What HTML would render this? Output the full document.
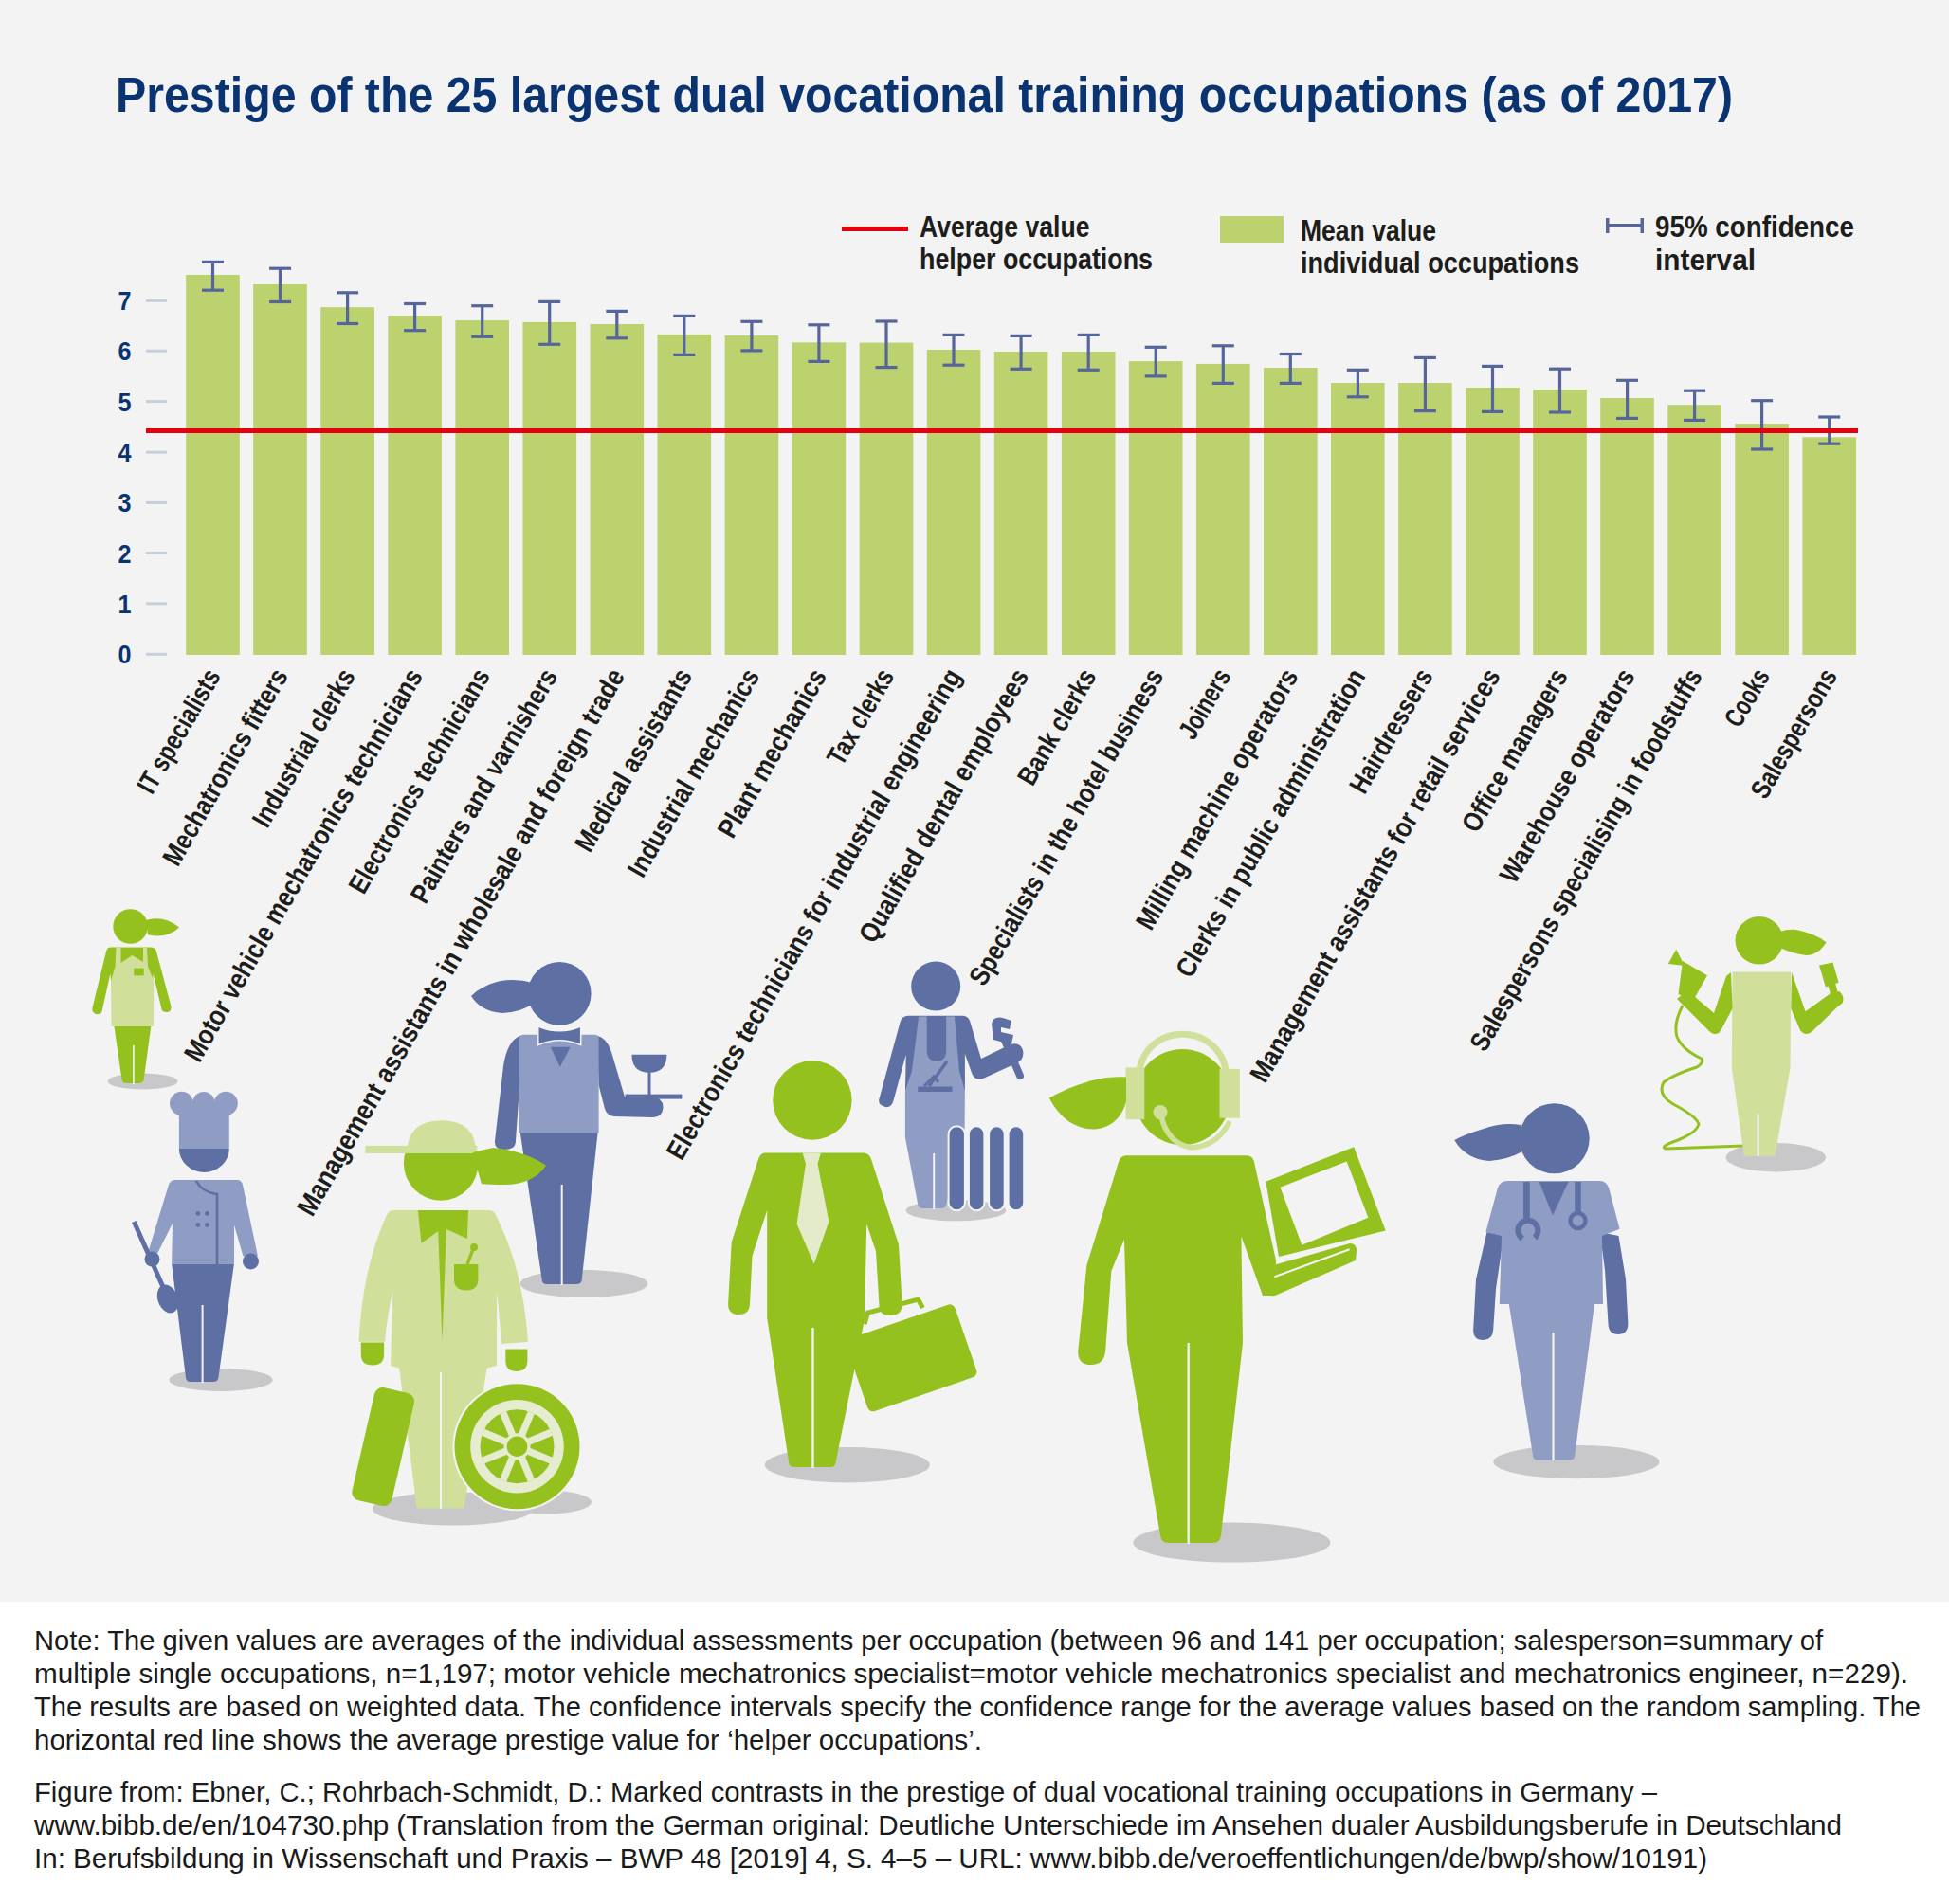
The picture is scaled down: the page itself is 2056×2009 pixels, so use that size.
<!DOCTYPE html>
<html><head><meta charset="utf-8"><style>
html,body{margin:0;padding:0;background:#fff;}
svg{display:block;font-family:"Liberation Sans",sans-serif;}
</style></head><body>
<svg width="2056" height="2009" viewBox="0 0 2056 2009">
<rect x="0" y="0" width="2056" height="1690" fill="#f3f3f3"/>
<rect x="0" y="1690" width="2056" height="319" fill="#ffffff"/>
<g id="figs">
<!-- shadows -->
<g fill="#c8c8ca">
<ellipse cx="150.6" cy="1141" rx="37" ry="8.5"/>
<ellipse cx="233" cy="1456" rx="54.6" ry="12"/>
<ellipse cx="478" cy="1592" rx="85" ry="17.5"/><ellipse cx="577" cy="1585" rx="47" ry="12.5"/>
<ellipse cx="616" cy="1354.6" rx="67.3" ry="14.5"/>
<ellipse cx="893.8" cy="1545.7" rx="87" ry="18.7"/>
<ellipse cx="1008.5" cy="1277.3" rx="52.8" ry="11"/>
<ellipse cx="1299.4" cy="1627.6" rx="104" ry="21"/>
<ellipse cx="1662.9" cy="1542.6" rx="87.6" ry="17.6"/>
<ellipse cx="1873.3" cy="1221.2" rx="52.6" ry="15.2"/>
</g>

<!-- F1 saleswoman -->
<g>
<path fill="#95c11f" d="M120.3,1082 L159.4,1082 L151.7,1139 Q151,1143 146,1143 L134,1143 Q129,1143 128.5,1139 Z"/>
<line x1="140.9" y1="1103" x2="140.9" y2="1144" stroke="#f3f3f3" stroke-width="1.6"/>
<path fill="#95c11f" d="M117,999.6 L160,999.6 Q163.8,1000 165,1004 L180.4,1061.4 Q181,1068 176,1068 Q171,1068 170.5,1064.7 L161.6,1027.2 L159.4,1083 L120.3,1083 L116.4,1027.2 L107.6,1066.9 Q106,1071 101,1070 Q96,1068 97.7,1062.5 L112,1004 Q113,999.6 117,999.6 Z"/>
<path fill="#d0e09a" d="M122.5,999.6 L155,999.6 L156,1020 L162.2,1035 L162,1083 L117.5,1083 L117,1035 L121.5,1020 Z"/>
<path fill="#95c11f" d="M127.5,1000 L151,1000 L151,1015 L139.5,1008 L127.5,1016 Z"/>
<rect x="141.2" y="1021.6" width="10.5" height="7.8" fill="#95c11f"/>
<circle cx="137.6" cy="977.5" r="18.3" fill="#95c11f"/>
<path fill="#95c11f" d="M154,971 Q172,965 189.2,978.6 Q176,991 156,986.3 Z"/>
</g>

<!-- F2 chef -->
<g>
<path fill="#5e70a3" d="M181.1,1333 L247,1333 L230.5,1453 Q230,1458 225,1458 L201,1458 Q196,1458 195.9,1453 Z"/>
<line x1="213.6" y1="1377" x2="213.6" y2="1459" stroke="#f3f3f3" stroke-width="2"/>
<path fill="#8f9cc4" d="M185,1244.9 L250,1244.9 Q254.8,1245 256,1250 L272,1325.4 L256.5,1325.4 L247,1292.5 L247,1334.1 L181.1,1334.1 L182,1290.8 L166.4,1322 L156,1322 L178,1250 Q180,1244.9 185,1244.9 Z"/>
<circle cx="160.5" cy="1328.5" r="8" fill="#5e70a3"/>
<circle cx="264.5" cy="1331" r="8.5" fill="#5e70a3"/>
<line x1="141.3" y1="1289" x2="172" y2="1358" stroke="#5e70a3" stroke-width="5"/>
<ellipse cx="177" cy="1370.5" rx="10.5" ry="15.5" transform="rotate(-20 177 1370.5)" fill="#5e70a3"/>
<path d="M207,1246 Q213,1258 229,1260 L229,1334" fill="none" stroke="#5e70a3" stroke-width="2.6"/>
<g fill="#5e70a3"><circle cx="208.9" cy="1280.4" r="2.4"/><circle cx="218.4" cy="1280.4" r="2.4"/><circle cx="208.9" cy="1292.5" r="2.4"/><circle cx="218.4" cy="1292.5" r="2.4"/></g>
<g fill="#8f9cc4"><circle cx="191.5" cy="1164.3" r="12.5"/><circle cx="214.9" cy="1163.5" r="11.5"/><circle cx="238.3" cy="1164.3" r="12.5"/><rect x="188.9" y="1162" width="52.9" height="50"/></g>
<path fill="#5e70a3" d="M188.9,1211.9 L241.8,1211.9 A26.45,25 0 0 1 188.9,1211.9 Z"/>
</g>

<!-- F4 waitress -->
<g>
<path fill="#5e70a3" d="M548.8,1195 L630.6,1195 L613.7,1351 Q613,1355 608,1355 L577,1355 Q572,1355 571.8,1351 Z"/>
<line x1="592.7" y1="1250" x2="592.7" y2="1356" stroke="#f3f3f3" stroke-width="2"/>
<path fill="#5e70a3" d="M549,1092.8 Q535,1098 531,1125 L521.9,1205 Q522,1213 532,1213 Q543,1213 543.8,1206 L547.8,1150 Z"/>
<path fill="#5e70a3" d="M630,1092.8 Q640,1095 645,1110 L659,1157.6 L688,1157.6 Q699,1158 699.5,1168 Q699,1179 688,1179 L648,1178 Q640,1177 638,1170 L631.6,1145 Z"/>
<path fill="#8f9cc4" d="M552,1091.8 L627.6,1091.8 Q631.6,1092 631.6,1096 L631.6,1195.5 L547.8,1195.5 L547.8,1096 Q548,1092 552,1091.8 Z"/>
<path fill="#5e70a3" d="M580.7,1104.7 L601.7,1104.7 L590.7,1125.7 Z"/>
<path fill="#5e70a3" stroke="#f3f3f3" stroke-width="1.5" d="M567.8,1083 Q590,1092.6 612.7,1083 L612.7,1102.5 Q590,1092.9 567.8,1102.5 Z"/>
<circle cx="590.2" cy="1048.4" r="33.4" fill="#5e70a3"/>
<path fill="#5e70a3" d="M562,1037 Q545,1032 528,1035 Q508,1040 497,1050.9 Q508,1068 530,1069 Q550,1068 562,1059 Z"/>
<rect x="659.5" y="1154.6" width="59.9" height="5" fill="#5e70a3"/>
<path fill="#5e70a3" d="M666.5,1112.7 L703.4,1112.7 Q703.4,1131.7 685,1131.7 Q666.5,1131.7 666.5,1112.7 Z"/>
<rect x="683.5" y="1130" width="3" height="26" fill="#5e70a3"/>
</g>

<!-- F3 mechanic -->
<g>
<path fill="#d0e09a" d="M415,1277 L516,1277 Q521.8,1277 524,1284 Q552,1340 557,1416 L529,1418 Q527,1390 524.1,1362.6 L524,1441 L513.7,1443.5 L489.4,1591.4 L439.7,1591.4 L421.2,1443.5 L412,1441 L414.3,1362.6 Q408,1390 406.2,1415.7 L378.5,1415.7 Q382,1340 407,1284 Q409.7,1277 415,1277 Z"/>
<line x1="465" y1="1448" x2="465" y2="1592" stroke="#f3f3f3" stroke-width="2"/>
<path fill="#95c11f" d="M440.9,1277 L494,1277 L492.9,1307.1 L467.5,1295.6 L444.4,1311.7 Z"/>
<path fill="#95c11f" d="M462,1294 L471,1294 L466.5,1415 Z"/>
<path fill="#95c11f" d="M479,1334 L504.4,1334 L504.4,1350 Q504.4,1361.4 491.7,1361.4 Q479,1361.4 479,1350 Z"/>
<path d="M493,1334 L499,1318" stroke="#95c11f" stroke-width="3.5"/>
<circle cx="500" cy="1316" r="4" fill="#95c11f"/>
<path fill="#95c11f" d="M380.8,1416.5 L405.1,1416.5 L405.1,1429 Q405.1,1440.5 393,1440.5 Q380.8,1440.5 380.8,1429 Z"/>
<path fill="#95c11f" d="M533.3,1423.5 L556.4,1423.5 L556.4,1435.5 Q556.4,1447 544.8,1447 Q533.3,1447 533.3,1435.5 Z"/>
<circle cx="465.2" cy="1227.4" r="39.3" fill="#95c11f"/>
<path fill="#d0e09a" d="M429.3,1217 Q429.3,1182.3 465.7,1182.3 Q502.1,1182.3 502.1,1217 Z"/>
<rect x="385.4" y="1208.9" width="117.9" height="8.1" fill="#d0e09a"/>
<path fill="#95c11f" d="M498.7,1216 L520,1211 Q552,1214 576.1,1229.7 Q562,1250 532,1250 Q516,1250 507.9,1249.3 Z"/>
<rect x="382.7" y="1465.6" width="43" height="122" rx="9" transform="rotate(13 404.2 1526.6)" fill="#95c11f"/>
<circle cx="545.5" cy="1526.2" r="68" fill="#f3f3f3"/>
<circle cx="545.5" cy="1526.2" r="66" fill="#95c11f"/>
<circle cx="545.5" cy="1526.2" r="49.3" fill="#e5ecd0"/>
<circle cx="545.5" cy="1526.2" r="39" fill="#95c11f"/>
<g stroke="#e5ecd0" stroke-width="7.5">
<line x1="545.5" y1="1526.2" x2="560.4" y2="1490.2"/><line x1="545.5" y1="1526.2" x2="581.5" y2="1511.3"/>
<line x1="545.5" y1="1526.2" x2="581.5" y2="1541.1"/><line x1="545.5" y1="1526.2" x2="560.4" y2="1562.2"/>
<line x1="545.5" y1="1526.2" x2="530.6" y2="1562.2"/><line x1="545.5" y1="1526.2" x2="509.5" y2="1541.1"/>
<line x1="545.5" y1="1526.2" x2="509.5" y2="1511.3"/><line x1="545.5" y1="1526.2" x2="530.6" y2="1490.2"/>
</g>
<circle cx="545.5" cy="1526.2" r="14" fill="#e5ecd0"/>
<circle cx="545.5" cy="1526.2" r="10.8" fill="#95c11f"/>
</g>

<!-- F5 businessman -->
<g>
<path fill="#95c11f" d="M807,1216.6 L911,1216.6 Q916.7,1217 919,1223 L948,1313.2 L951.7,1376 Q951.5,1388 939.5,1388 Q928,1388 927.5,1378.5 L924,1320.5 L914.3,1291.5 L911.8,1393 L881.6,1543 Q881,1548 876,1548 L838,1548 Q832.5,1548 832.1,1543 L809.2,1390.5 L809.2,1277 L793.5,1325.3 L791,1376 Q790.5,1387 779.5,1387 Q768,1387 768.1,1376 L771.7,1310.8 L800,1223 Q802,1217 807,1216.6 Z"/>
<line x1="857.5" y1="1401" x2="857.5" y2="1549" stroke="#f3f3f3" stroke-width="2.4"/>
<path fill="#e3ebcb" d="M846.6,1216.6 L865.9,1216.6 L862.5,1228 L874.4,1289 L858.7,1333.8 L840.6,1291.5 L850,1228 Z"/>
<circle cx="856.9" cy="1161" r="41.7" fill="#95c11f"/>
<rect x="900.65" y="1392.3" width="121.5" height="81" rx="6" transform="rotate(-19 961.4 1432.8)" fill="#95c11f"/>
<path d="M912,1397 L915.5,1385 L968.6,1371.2 L973.4,1380" fill="none" stroke="#95c11f" stroke-width="5"/>
</g>

<!-- F6 plumber -->
<g>
<path fill="#5e70a3" d="M958,1071.7 L1016,1071.7 Q1021,1072 1023,1077 L1035,1117 L1066,1102 Q1076,1099 1079,1108 Q1081,1118 1072,1122 L1037,1138 Q1028,1141 1025,1132 L1017.9,1112 L1017.9,1150 L955,1150 L955.7,1112.7 L942.3,1162 Q940,1169 934,1168 Q926,1166 927.3,1160 L950,1077 Q952,1072 958,1071.7 Z"/>
<path fill="#8f9cc4" d="M969.1,1072.5 L977.7,1072.5 L977.7,1108 Q977.7,1119.7 988,1119.7 Q998.2,1119.7 998.2,1108 L998.2,1072.5 L1006.9,1072.5 L1012,1130 L1017.9,1151 L1017.5,1200 L998.2,1271 Q997,1275 993,1275 L973,1275 Q969,1275 968.3,1271 L954.9,1200 L954.9,1151 L962,1130 Z"/>
<line x1="985.2" y1="1217" x2="985.2" y2="1276" stroke="#f3f3f3" stroke-width="2"/>
<rect x="968.3" y="1146.5" width="36.2" height="5.5" fill="#5e70a3"/>
<path d="M980,1146 L999,1120" stroke="#5e70a3" stroke-width="3.5"/>
<path d="M975,1146 L985,1136 L990,1142" fill="none" stroke="#5e70a3" stroke-width="3"/>
<circle cx="987.2" cy="1040.6" r="26" fill="#5e70a3"/>
<path d="M1060,1098 L1076,1135" stroke="#5e70a3" stroke-width="8" stroke-linecap="round"/>
<path fill="#5e70a3" d="M1046,1080 Q1048,1072 1058,1074 L1067,1077 L1065,1086 L1056,1084 L1056,1089 L1069,1092 L1067,1102 L1048,1097 Z"/>
<g fill="#5e70a3" stroke="#f3f3f3" stroke-width="2">
<rect x="1000.6" y="1188.3" width="17.3" height="89" rx="8.5"/>
<rect x="1021.9" y="1188.3" width="16.5" height="89" rx="8.2"/>
<rect x="1043.1" y="1188.3" width="16.6" height="89" rx="8.3"/>
<rect x="1063.6" y="1188.3" width="16.6" height="89" rx="8.3"/>
</g>
</g>

<!-- F7 call center -->
<g>
<path fill="#95c11f" d="M1188,1219.3 L1315,1219.3 Q1321.6,1219.3 1323,1226 L1346,1330 L1345,1367 L1332,1367 L1309.4,1304.6 L1311,1417 L1288,1620 Q1287,1628 1280,1628 L1232,1628 Q1225,1628 1224,1620 L1189,1417 L1186,1307.7 L1172.3,1341.2 L1166.2,1425 Q1165,1440 1151,1440 Q1137,1440 1137.2,1426 L1146.4,1335 L1180,1226 Q1182,1219.3 1188,1219.3 Z"/>
<line x1="1253.7" y1="1417" x2="1253.7" y2="1629" stroke="#f3f3f3" stroke-width="2.4"/>
<path fill="#95c11f" fill-rule="evenodd" d="M1335.3,1246.7 L1428.2,1210.2 L1461.7,1298.5 L1349,1326 Z M1350.5,1252.8 L1373.4,1313.8 L1443.4,1284.8 L1420.6,1225.4 Z"/>
<path fill="#95c11f" d="M1333,1338 L1424,1312 Q1431,1312 1431,1320 L1430,1330 L1345,1367 Q1336,1369 1334,1360 Z"/>
<path d="M1344.4,1347.3 L1423.6,1318.3" stroke="#f3f3f3" stroke-width="2"/>
<circle cx="1247.5" cy="1157.5" r="50.5" fill="#95c11f"/>
<path d="M1201,1140 C1201,1075 1294,1075 1294,1140" fill="none" stroke="#d0e09a" stroke-width="7"/>
<rect x="1187.5" y="1126.4" width="19.8" height="54.8" fill="#d0e09a"/>
<rect x="1286.5" y="1127.9" width="21.4" height="51.8" fill="#d0e09a"/>
<path d="M1225,1178 Q1232,1207 1257,1211 Q1285,1209 1297,1183" fill="none" stroke="#d0e09a" stroke-width="5.5"/>
<circle cx="1224" cy="1173.6" r="7.5" fill="#d0e09a"/>
<path fill="#95c11f" d="M1188,1136.5 C1160,1134 1130,1146 1106.7,1158.5 C1118,1180 1135,1192 1155,1191.5 C1175,1190 1185,1175 1188,1162 Z"/>
</g>

<!-- F8 medical -->
<g>
<path fill="#5e70a3" d="M1568.5,1300 L1586.2,1304 L1578,1360 L1575.2,1403 Q1574.5,1414 1564.5,1414 Q1554,1414 1554.2,1403 L1557,1350 Z"/>
<path fill="#5e70a3" d="M1687.7,1300 L1707.5,1304 L1715,1350 L1717.4,1397 Q1717,1408 1707,1408 Q1697,1408 1696.5,1397 L1693,1340 Z"/>
<path fill="#8f9cc4" d="M1591.7,1375 L1682.1,1375 L1661.2,1536 Q1660.5,1540.5 1656,1540.5 L1622,1540.5 Q1617.5,1540.5 1617.1,1536 Z"/>
<line x1="1638.5" y1="1406" x2="1638.5" y2="1541" stroke="#f3f3f3" stroke-width="2.2"/>
<path fill="#8f9cc4" d="M1590,1246 L1688,1246 Q1694,1246 1697,1253 L1708.6,1296.7 L1690,1304 L1691,1376 L1581.8,1376 L1584,1304 L1567.4,1300 L1580,1253 Q1583,1246 1590,1246 Z"/>
<path fill="#5e70a3" d="M1623.7,1247 L1654.6,1247 L1638,1282.4 Z"/>
<rect x="1607" y="1247" width="6.8" height="42" fill="#5e70a3"/>
<path d="M1606,1307 A10.5,10.5 0 1 1 1619,1306" fill="none" stroke="#5e70a3" stroke-width="6"/>
<rect x="1661.2" y="1247" width="6.6" height="33" fill="#5e70a3"/>
<circle cx="1664.5" cy="1288" r="8" fill="#8f9cc4" stroke="#5e70a3" stroke-width="4.5"/>
<circle cx="1639.7" cy="1201.3" r="37" fill="#5e70a3"/>
<path fill="#5e70a3" d="M1604,1187 Q1585,1184 1565,1191 Q1545,1197 1534.3,1203 Q1546,1223 1571,1225 Q1592,1223 1604,1216 Z"/>
</g>

<!-- F9 hairdresser -->
<g>
<path d="M1775,1061 Q1765,1080 1769,1094 Q1775,1108 1795,1117 Q1798,1121 1790,1126 Q1765,1134 1755,1142 Q1748,1155 1765,1165 Q1790,1178 1792,1186 Q1790,1195 1770,1203 Q1750,1210 1757,1212 L1839,1209" fill="none" stroke="#95c11f" stroke-width="3"/>
<path fill="#d0e09a" d="M1827.6,1025.4 L1889.3,1025.4 L1888.5,1126.7 L1872.5,1219.7 L1839.8,1219.7 L1826.8,1126.7 Z"/>
<line x1="1854.6" y1="1175.5" x2="1854.6" y2="1220" stroke="#f3f3f3" stroke-width="2"/>
<path fill="#95c11f" d="M1826,1026 L1827.6,1064 L1815,1088 Q1811,1094 1804,1089 L1769,1054 L1780,1045 L1808,1069 L1821,1030 Z"/>
<path fill="#95c11f" d="M1775,1014 L1801,1029.2 L1785.7,1056.6 L1770.5,1049 Z"/>
<path fill="#95c11f" d="M1768.2,1001.8 L1759.8,1017 L1777,1019 Z"/>
<path fill="#95c11f" d="M1890,1026 L1904.5,1067.3 L1932,1047.5 L1940,1046 Q1946,1050 1944,1058 L1938,1062.7 L1911,1089 Q1904,1094 1899,1087 L1889.3,1064.3 Z"/>
<path fill="#95c11f" d="M1919,1018.6 L1933.5,1015.5 L1939.6,1036.8 L1925.9,1041.4 Z"/>
<rect x="1930" y="1038" width="8" height="14" fill="#95c11f" transform="rotate(-15 1934 1045)"/>
<circle cx="1855.8" cy="992.3" r="25.3" fill="#95c11f"/>
<path fill="#95c11f" d="M1878,983 Q1885,980 1895,981 Q1915,985 1926.6,994.2 Q1918,1008 1905,1008 Q1890,1006 1878,1000 Z"/>
</g>
</g>

<text x="122" y="117.5" font-size="51" font-weight="bold" fill="#0a3371" textLength="1706" lengthAdjust="spacingAndGlyphs" >Prestige of the 25 largest dual vocational training occupations (as of 2017)</text>
<rect x="888" y="239" width="70" height="5" fill="#e3000f"/>
<text x="970" y="249.5" font-size="30.5" font-weight="bold" fill="#1d1d1b" textLength="179.5" lengthAdjust="spacingAndGlyphs" >Average value</text>
<text x="970" y="284" font-size="30.5" font-weight="bold" fill="#1d1d1b" textLength="246" lengthAdjust="spacingAndGlyphs" >helper occupations</text>
<rect x="1287" y="228" width="67" height="28" fill="#bbd26e"/>
<text x="1372" y="254" font-size="30.5" font-weight="bold" fill="#1d1d1b" textLength="143" lengthAdjust="spacingAndGlyphs" >Mean value</text>
<text x="1372" y="288" font-size="30.5" font-weight="bold" fill="#1d1d1b" textLength="294" lengthAdjust="spacingAndGlyphs" >individual occupations</text>
<rect x="1694" y="236" width="40" height="3.5" fill="#56669c"/>
<rect x="1694" y="230" width="3.5" height="16" fill="#56669c"/>
<rect x="1730.5" y="230" width="3.5" height="16" fill="#56669c"/>
<text x="1746" y="249.5" font-size="30.5" font-weight="bold" fill="#1d1d1b" textLength="210" lengthAdjust="spacingAndGlyphs" >95% confidence</text>
<text x="1746" y="285" font-size="30.5" font-weight="bold" fill="#1d1d1b" textLength="106" lengthAdjust="spacingAndGlyphs" >interval</text>
<rect x="154" y="688.8" width="22" height="3" fill="#c8cddc"/>
<text x="124.5" y="700.3" font-size="27.5" font-weight="bold" fill="#0a3371" textLength="14" lengthAdjust="spacingAndGlyphs" >0</text>
<rect x="154" y="635.3" width="22" height="3" fill="#c8cddc"/>
<text x="124.5" y="646.8" font-size="27.5" font-weight="bold" fill="#0a3371" textLength="14" lengthAdjust="spacingAndGlyphs" >1</text>
<rect x="154" y="582.0" width="22" height="3" fill="#c8cddc"/>
<text x="124.5" y="593.5" font-size="27.5" font-weight="bold" fill="#0a3371" textLength="14" lengthAdjust="spacingAndGlyphs" >2</text>
<rect x="154" y="528.9" width="22" height="3" fill="#c8cddc"/>
<text x="124.5" y="540.4" font-size="27.5" font-weight="bold" fill="#0a3371" textLength="14" lengthAdjust="spacingAndGlyphs" >3</text>
<rect x="154" y="475.7" width="22" height="3" fill="#c8cddc"/>
<text x="124.5" y="487.2" font-size="27.5" font-weight="bold" fill="#0a3371" textLength="14" lengthAdjust="spacingAndGlyphs" >4</text>
<rect x="154" y="422.1" width="22" height="3" fill="#c8cddc"/>
<text x="124.5" y="433.6" font-size="27.5" font-weight="bold" fill="#0a3371" textLength="14" lengthAdjust="spacingAndGlyphs" >5</text>
<rect x="154" y="368.7" width="22" height="3" fill="#c8cddc"/>
<text x="124.5" y="380.2" font-size="27.5" font-weight="bold" fill="#0a3371" textLength="14" lengthAdjust="spacingAndGlyphs" >6</text>
<rect x="154" y="315.8" width="22" height="3" fill="#c8cddc"/>
<text x="124.5" y="327.3" font-size="27.5" font-weight="bold" fill="#0a3371" textLength="14" lengthAdjust="spacingAndGlyphs" >7</text>
<rect x="196.2" y="290" width="56.6" height="401.0" fill="#bbd26e"/>
<rect x="267.2" y="300" width="56.6" height="391.0" fill="#bbd26e"/>
<rect x="338.3" y="324.2" width="56.6" height="366.8" fill="#bbd26e"/>
<rect x="409.3" y="333" width="56.6" height="358.0" fill="#bbd26e"/>
<rect x="480.4" y="338.1" width="56.6" height="352.9" fill="#bbd26e"/>
<rect x="551.5" y="339.9" width="56.6" height="351.1" fill="#bbd26e"/>
<rect x="622.5" y="342" width="56.6" height="349.0" fill="#bbd26e"/>
<rect x="693.5" y="352.9" width="56.6" height="338.1" fill="#bbd26e"/>
<rect x="764.6" y="354.1" width="56.6" height="336.9" fill="#bbd26e"/>
<rect x="835.6" y="361.3" width="56.6" height="329.7" fill="#bbd26e"/>
<rect x="906.7" y="361.6" width="56.6" height="329.4" fill="#bbd26e"/>
<rect x="977.8" y="369" width="56.6" height="322.0" fill="#bbd26e"/>
<rect x="1048.8" y="371" width="56.6" height="320.0" fill="#bbd26e"/>
<rect x="1119.9" y="371" width="56.6" height="320.0" fill="#bbd26e"/>
<rect x="1190.9" y="381.1" width="56.6" height="309.9" fill="#bbd26e"/>
<rect x="1262.0" y="383.9" width="56.6" height="307.1" fill="#bbd26e"/>
<rect x="1333.0" y="388" width="56.6" height="303.0" fill="#bbd26e"/>
<rect x="1404.0" y="404" width="56.6" height="287.0" fill="#bbd26e"/>
<rect x="1475.1" y="404" width="56.6" height="287.0" fill="#bbd26e"/>
<rect x="1546.2" y="409" width="56.6" height="282.0" fill="#bbd26e"/>
<rect x="1617.2" y="411" width="56.6" height="280.0" fill="#bbd26e"/>
<rect x="1688.2" y="420" width="56.6" height="271.0" fill="#bbd26e"/>
<rect x="1759.3" y="427.2" width="56.6" height="263.8" fill="#bbd26e"/>
<rect x="1830.3" y="447.1" width="56.6" height="243.9" fill="#bbd26e"/>
<rect x="1901.4" y="461.3" width="56.6" height="229.7" fill="#bbd26e"/>
<rect x="222.9" y="276.4" width="3.2" height="29.8" fill="#56669c"/>
<rect x="213.0" y="274.8" width="23" height="3.2" fill="#56669c"/>
<rect x="213.0" y="304.6" width="23" height="3.2" fill="#56669c"/>
<rect x="293.9" y="283.2" width="3.2" height="35.3" fill="#56669c"/>
<rect x="284.1" y="281.6" width="23" height="3.2" fill="#56669c"/>
<rect x="284.1" y="316.9" width="23" height="3.2" fill="#56669c"/>
<rect x="365.0" y="308.8" width="3.2" height="32.7" fill="#56669c"/>
<rect x="355.1" y="307.2" width="23" height="3.2" fill="#56669c"/>
<rect x="355.1" y="339.9" width="23" height="3.2" fill="#56669c"/>
<rect x="436.0" y="320.5" width="3.2" height="28.2" fill="#56669c"/>
<rect x="426.1" y="318.9" width="23" height="3.2" fill="#56669c"/>
<rect x="426.1" y="347.1" width="23" height="3.2" fill="#56669c"/>
<rect x="507.1" y="322.7" width="3.2" height="32.6" fill="#56669c"/>
<rect x="497.2" y="321.1" width="23" height="3.2" fill="#56669c"/>
<rect x="497.2" y="353.7" width="23" height="3.2" fill="#56669c"/>
<rect x="578.1" y="318.4" width="3.2" height="44.9" fill="#56669c"/>
<rect x="568.2" y="316.8" width="23" height="3.2" fill="#56669c"/>
<rect x="568.2" y="361.7" width="23" height="3.2" fill="#56669c"/>
<rect x="649.2" y="328.4" width="3.2" height="28.4" fill="#56669c"/>
<rect x="639.3" y="326.8" width="23" height="3.2" fill="#56669c"/>
<rect x="639.3" y="355.2" width="23" height="3.2" fill="#56669c"/>
<rect x="720.2" y="333.4" width="3.2" height="41.0" fill="#56669c"/>
<rect x="710.3" y="331.8" width="23" height="3.2" fill="#56669c"/>
<rect x="710.3" y="372.8" width="23" height="3.2" fill="#56669c"/>
<rect x="791.3" y="339.3" width="3.2" height="30.6" fill="#56669c"/>
<rect x="781.4" y="337.7" width="23" height="3.2" fill="#56669c"/>
<rect x="781.4" y="368.3" width="23" height="3.2" fill="#56669c"/>
<rect x="862.3" y="342.8" width="3.2" height="38.6" fill="#56669c"/>
<rect x="852.4" y="341.2" width="23" height="3.2" fill="#56669c"/>
<rect x="852.4" y="379.8" width="23" height="3.2" fill="#56669c"/>
<rect x="933.4" y="339" width="3.2" height="48.6" fill="#56669c"/>
<rect x="923.5" y="337.4" width="23" height="3.2" fill="#56669c"/>
<rect x="923.5" y="386.0" width="23" height="3.2" fill="#56669c"/>
<rect x="1004.4" y="353.4" width="3.2" height="31.8" fill="#56669c"/>
<rect x="994.5" y="351.8" width="23" height="3.2" fill="#56669c"/>
<rect x="994.5" y="383.6" width="23" height="3.2" fill="#56669c"/>
<rect x="1075.5" y="354.4" width="3.2" height="34.9" fill="#56669c"/>
<rect x="1065.6" y="352.8" width="23" height="3.2" fill="#56669c"/>
<rect x="1065.6" y="387.7" width="23" height="3.2" fill="#56669c"/>
<rect x="1146.6" y="353.4" width="3.2" height="36.9" fill="#56669c"/>
<rect x="1136.7" y="351.8" width="23" height="3.2" fill="#56669c"/>
<rect x="1136.7" y="388.7" width="23" height="3.2" fill="#56669c"/>
<rect x="1217.6" y="366.3" width="3.2" height="30.6" fill="#56669c"/>
<rect x="1207.7" y="364.7" width="23" height="3.2" fill="#56669c"/>
<rect x="1207.7" y="395.3" width="23" height="3.2" fill="#56669c"/>
<rect x="1288.7" y="364.8" width="3.2" height="39.6" fill="#56669c"/>
<rect x="1278.8" y="363.2" width="23" height="3.2" fill="#56669c"/>
<rect x="1278.8" y="402.8" width="23" height="3.2" fill="#56669c"/>
<rect x="1359.7" y="373.5" width="3.2" height="30.9" fill="#56669c"/>
<rect x="1349.8" y="371.9" width="23" height="3.2" fill="#56669c"/>
<rect x="1349.8" y="402.8" width="23" height="3.2" fill="#56669c"/>
<rect x="1430.8" y="390.3" width="3.2" height="28.5" fill="#56669c"/>
<rect x="1420.8" y="388.7" width="23" height="3.2" fill="#56669c"/>
<rect x="1420.8" y="417.2" width="23" height="3.2" fill="#56669c"/>
<rect x="1501.8" y="377.4" width="3.2" height="56.2" fill="#56669c"/>
<rect x="1491.9" y="375.8" width="23" height="3.2" fill="#56669c"/>
<rect x="1491.9" y="432.0" width="23" height="3.2" fill="#56669c"/>
<rect x="1572.9" y="386.4" width="3.2" height="48.0" fill="#56669c"/>
<rect x="1563.0" y="384.8" width="23" height="3.2" fill="#56669c"/>
<rect x="1563.0" y="432.8" width="23" height="3.2" fill="#56669c"/>
<rect x="1643.9" y="389.2" width="3.2" height="45.8" fill="#56669c"/>
<rect x="1634.0" y="387.6" width="23" height="3.2" fill="#56669c"/>
<rect x="1634.0" y="433.4" width="23" height="3.2" fill="#56669c"/>
<rect x="1715.0" y="401.3" width="3.2" height="40.1" fill="#56669c"/>
<rect x="1705.0" y="399.7" width="23" height="3.2" fill="#56669c"/>
<rect x="1705.0" y="439.8" width="23" height="3.2" fill="#56669c"/>
<rect x="1786.0" y="412.2" width="3.2" height="31.2" fill="#56669c"/>
<rect x="1776.1" y="410.6" width="23" height="3.2" fill="#56669c"/>
<rect x="1776.1" y="441.8" width="23" height="3.2" fill="#56669c"/>
<rect x="1857.0" y="422.7" width="3.2" height="51.3" fill="#56669c"/>
<rect x="1847.1" y="421.1" width="23" height="3.2" fill="#56669c"/>
<rect x="1847.1" y="472.4" width="23" height="3.2" fill="#56669c"/>
<rect x="1928.1" y="440" width="3.2" height="28.2" fill="#56669c"/>
<rect x="1918.2" y="438.4" width="23" height="3.2" fill="#56669c"/>
<rect x="1918.2" y="466.6" width="23" height="3.2" fill="#56669c"/>
<rect x="154" y="452" width="1806" height="5" fill="#e3000f"/>
<g transform="translate(233.5,713) rotate(-60)"><text x="-146" y="0" font-size="29" font-weight="bold" fill="#1d1d1b" textLength="146" lengthAdjust="spacingAndGlyphs" >IT specialists</text></g>
<g transform="translate(304.6,713) rotate(-60)"><text x="-234" y="0" font-size="29" font-weight="bold" fill="#1d1d1b" textLength="234" lengthAdjust="spacingAndGlyphs" >Mechatronics fitters</text></g>
<g transform="translate(375.6,713) rotate(-60)"><text x="-187.3" y="0" font-size="29" font-weight="bold" fill="#1d1d1b" textLength="187.3" lengthAdjust="spacingAndGlyphs" >Industrial clerks</text></g>
<g transform="translate(446.6,713) rotate(-60)"><text x="-472.8" y="0" font-size="29" font-weight="bold" fill="#1d1d1b" textLength="472.8" lengthAdjust="spacingAndGlyphs" >Motor vehicle mechatronics technicians</text></g>
<g transform="translate(517.7,713) rotate(-60)"><text x="-268" y="0" font-size="29" font-weight="bold" fill="#1d1d1b" textLength="268" lengthAdjust="spacingAndGlyphs" >Electronics technicians</text></g>
<g transform="translate(588.8,713) rotate(-60)"><text x="-279.7" y="0" font-size="29" font-weight="bold" fill="#1d1d1b" textLength="279.7" lengthAdjust="spacingAndGlyphs" >Painters and varnishers</text></g>
<g transform="translate(659.8,713) rotate(-60)"><text x="-660.6" y="0" font-size="29" font-weight="bold" fill="#1d1d1b" textLength="660.6" lengthAdjust="spacingAndGlyphs" >Management assistants in wholesale and foreign trade</text></g>
<g transform="translate(730.8,713) rotate(-60)"><text x="-217" y="0" font-size="29" font-weight="bold" fill="#1d1d1b" textLength="217" lengthAdjust="spacingAndGlyphs" >Medical assistants</text></g>
<g transform="translate(801.9,713) rotate(-60)"><text x="-248" y="0" font-size="29" font-weight="bold" fill="#1d1d1b" textLength="248" lengthAdjust="spacingAndGlyphs" >Industrial mechanics</text></g>
<g transform="translate(872.9,713) rotate(-60)"><text x="-200" y="0" font-size="29" font-weight="bold" fill="#1d1d1b" textLength="200" lengthAdjust="spacingAndGlyphs" >Plant mechanics</text></g>
<g transform="translate(944.0,713) rotate(-60)"><text x="-111.5" y="0" font-size="29" font-weight="bold" fill="#1d1d1b" textLength="111.5" lengthAdjust="spacingAndGlyphs" >Tax clerks</text></g>
<g transform="translate(1015.0,713) rotate(-60)"><text x="-592" y="0" font-size="29" font-weight="bold" fill="#1d1d1b" textLength="592" lengthAdjust="spacingAndGlyphs" >Electronics technicians for industrial engineering</text></g>
<g transform="translate(1086.1,713) rotate(-60)"><text x="-328" y="0" font-size="29" font-weight="bold" fill="#1d1d1b" textLength="328" lengthAdjust="spacingAndGlyphs" >Qualified dental employees</text></g>
<g transform="translate(1157.2,713) rotate(-60)"><text x="-136" y="0" font-size="29" font-weight="bold" fill="#1d1d1b" textLength="136" lengthAdjust="spacingAndGlyphs" >Bank clerks</text></g>
<g transform="translate(1228.2,713) rotate(-60)"><text x="-380" y="0" font-size="29" font-weight="bold" fill="#1d1d1b" textLength="380" lengthAdjust="spacingAndGlyphs" >Specialists in the hotel business</text></g>
<g transform="translate(1299.2,713) rotate(-60)"><text x="-80" y="0" font-size="29" font-weight="bold" fill="#1d1d1b" textLength="80" lengthAdjust="spacingAndGlyphs" >Joiners</text></g>
<g transform="translate(1370.3,713) rotate(-60)"><text x="-312" y="0" font-size="29" font-weight="bold" fill="#1d1d1b" textLength="312" lengthAdjust="spacingAndGlyphs" >Milling machine operators</text></g>
<g transform="translate(1441.3,713) rotate(-60)"><text x="-370" y="0" font-size="29" font-weight="bold" fill="#1d1d1b" textLength="370" lengthAdjust="spacingAndGlyphs" >Clerks in public administration</text></g>
<g transform="translate(1512.4,713) rotate(-60)"><text x="-146" y="0" font-size="29" font-weight="bold" fill="#1d1d1b" textLength="146" lengthAdjust="spacingAndGlyphs" >Hairdressers</text></g>
<g transform="translate(1583.5,713) rotate(-60)"><text x="-498" y="0" font-size="29" font-weight="bold" fill="#1d1d1b" textLength="498" lengthAdjust="spacingAndGlyphs" >Management assistants for retail services</text></g>
<g transform="translate(1654.5,713) rotate(-60)"><text x="-193" y="0" font-size="29" font-weight="bold" fill="#1d1d1b" textLength="193" lengthAdjust="spacingAndGlyphs" >Office managers</text></g>
<g transform="translate(1725.5,713) rotate(-60)"><text x="-255" y="0" font-size="29" font-weight="bold" fill="#1d1d1b" textLength="255" lengthAdjust="spacingAndGlyphs" >Warehouse operators</text></g>
<g transform="translate(1796.6,713) rotate(-60)"><text x="-460" y="0" font-size="29" font-weight="bold" fill="#1d1d1b" textLength="460" lengthAdjust="spacingAndGlyphs" >Salespersons specialising in foodstuffs</text></g>
<g transform="translate(1867.6,713) rotate(-60)"><text x="-65" y="0" font-size="29" font-weight="bold" fill="#1d1d1b" textLength="65" lengthAdjust="spacingAndGlyphs" >Cooks</text></g>
<g transform="translate(1938.7,713) rotate(-60)"><text x="-152" y="0" font-size="29" font-weight="bold" fill="#1d1d1b" textLength="152" lengthAdjust="spacingAndGlyphs" >Salespersons</text></g>
<text x="36" y="1741" font-size="30" font-weight="normal" fill="#1a1a1a" textLength="1887" lengthAdjust="spacingAndGlyphs" >Note: The given values are averages of the individual assessments per occupation (between 96 and 141 per occupation; salesperson=summary of</text>
<text x="36" y="1775.8" font-size="30" font-weight="normal" fill="#1a1a1a" textLength="1977" lengthAdjust="spacingAndGlyphs" >multiple single occupations, n=1,197; motor vehicle mechatronics specialist=motor vehicle mechatronics specialist and mechatronics engineer, n=229).</text>
<text x="36" y="1810.6" font-size="30" font-weight="normal" fill="#1a1a1a" textLength="1990" lengthAdjust="spacingAndGlyphs" >The results are based on weighted data. The confidence intervals specify the confidence range for the average values based on the random sampling. The</text>
<text x="36" y="1845.5" font-size="30" font-weight="normal" fill="#1a1a1a" textLength="1000" lengthAdjust="spacingAndGlyphs" >horizontal red line shows the average prestige value for ‘helper occupations’.</text>
<text x="36" y="1901" font-size="30" font-weight="normal" fill="#1a1a1a" textLength="1712" lengthAdjust="spacingAndGlyphs" >Figure from: Ebner, C.; Rohrbach-Schmidt, D.: Marked contrasts in the prestige of dual vocational training occupations in Germany –</text>
<text x="36" y="1936" font-size="30" font-weight="normal" fill="#1a1a1a" textLength="1907" lengthAdjust="spacingAndGlyphs" >www.bibb.de/en/104730.php (Translation from the German original: Deutliche Unterschiede im Ansehen dualer Ausbildungsberufe in Deutschland</text>
<text x="36" y="1971" font-size="30" font-weight="normal" fill="#1a1a1a" textLength="1765" lengthAdjust="spacingAndGlyphs" >In: Berufsbildung in Wissenschaft und Praxis – BWP 48 [2019] 4, S. 4–5 – URL: www.bibb.de/veroeffentlichungen/de/bwp/show/10191)</text>
</svg></body></html>
